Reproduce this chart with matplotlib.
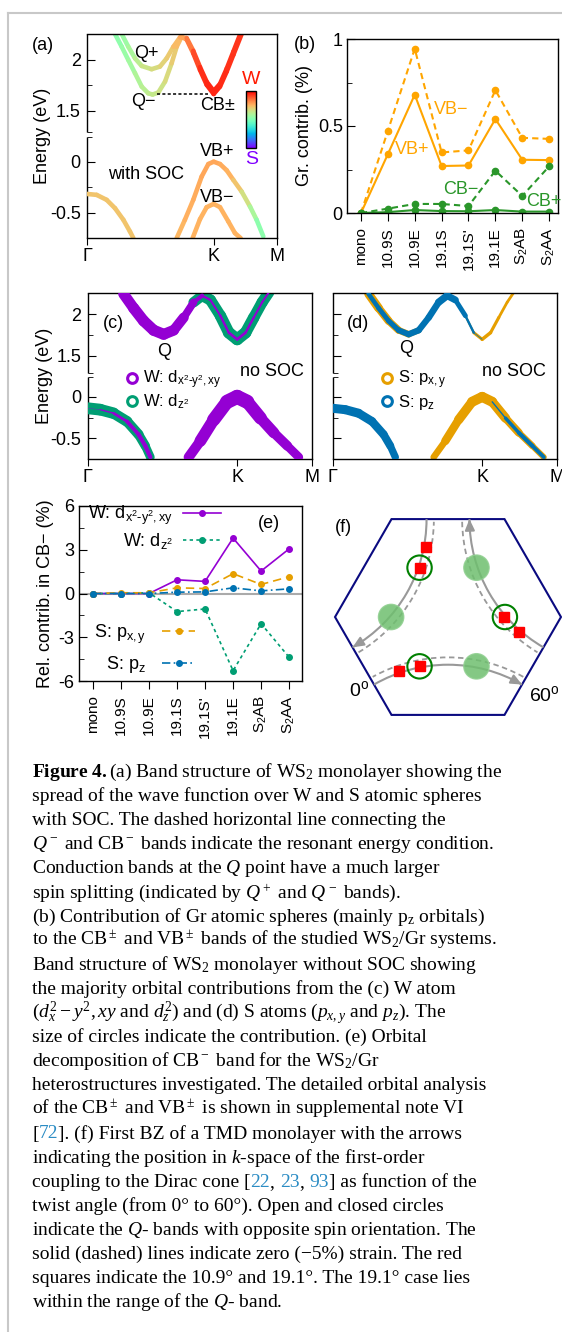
import numpy as np
import matplotlib
matplotlib.use("Agg")
import matplotlib.pyplot as plt
from matplotlib.collections import LineCollection
from matplotlib.lines import Line2D
from matplotlib.patches import Polygon, Arc, Circle
from matplotlib.font_manager import FontProperties
from matplotlib import cm

plt.rcParams.update({
    "font.family": "Liberation Sans",
    "font.size": 13,
    "mathtext.fontset": "custom",
    "mathtext.rm": "Liberation Serif",
    "mathtext.it": "Liberation Serif:italic",
    "mathtext.bf": "Liberation Serif:bold",
    "mathtext.default": "regular",
    "axes.linewidth": 1.0,
    "xtick.labelsize": 13,
    "ytick.labelsize": 13,
})

PURPLE = "#9400D3"
TEAL = "#009E73"
ORANGE = "#E69F00"
BLUE = "#0072B2"
B_ORANGE = "#FFA500"
B_GREEN = "#2A962A"

# ---------------- data ----------------
systems = ["mono", "10.9S", "10.9E", "19.1S", "19.1S'", "19.1E",
           r"S$_2$AB", r"S$_2$AA"]

# (b) graphene contribution (%)
vb_plus = [0.0, 0.338, 0.68, 0.27, 0.273, 0.54, 0.306, 0.304]
vb_minus = [0.0, 0.472, 0.944, 0.348, 0.36, 0.706, 0.432, 0.426]
cb_minus = [0.0, 0.025, 0.052, 0.052, 0.04, 0.243, 0.098, 0.268]
cb_plus = [0.0, 0.005, 0.017, 0.011, 0.01, 0.017, 0.008, 0.008]

# (e) relative contribution in CB- (%)
w_dxy = [0.0, 0.0, 0.0, 0.94, 0.83, 3.8, 1.54, 3.06]
w_dz2 = [0.0, 0.0, 0.05, -1.24, -1.06, -5.29, -2.07, -4.37]
s_pxy = [0.0, 0.05, 0.05, 0.39, 0.34, 1.36, 0.62, 1.15]
s_pz = [0.0, 0.0, 0.0, 0.09, 0.11, 0.39, 0.18, 0.32]

# k path: Gamma = 0, K = 1, M = 1.5
k_ticks = [0.0, 1.0, 1.5]
k_labels = ["Γ", "K", "M"]

# (a) bands with SOC (E in eV, weight 0 = S, 1 = W)
a_cbm_k = [0.221, 0.274, 0.326, 0.379, 0.432, 0.484, 0.518, 0.563, 0.616, 0.668, 0.708,
           0.747, 0.787, 0.839, 0.892, 0.945, 1.0, 1.05, 1.103, 1.155, 1.221]
a_cbm_e = [2.255, 2.13, 2.0, 1.87, 1.738, 1.672, 1.66, 1.68, 1.787, 1.967, 2.13,
           2.228, 2.2, 2.065, 1.902, 1.755, 1.665, 1.738, 1.886, 2.049, 2.255]
a_cbm_w = [0.52, 0.54, 0.56, 0.58, 0.6, 0.62, 0.63, 0.64, 0.66, 0.69, 0.72,
           0.75, 0.8, 0.88, 0.93, 0.95, 0.95, 0.95, 0.94, 0.93, 0.93]
a_cbp_k = [0.274, 0.326, 0.379, 0.432, 0.51, 0.576, 0.629, 0.682, 0.734,
           0.787, 0.839, 0.892, 0.945, 1.0, 1.05, 1.103, 1.155, 1.21]
a_cbp_e = [2.255, 2.13, 2.016, 1.941, 1.909, 1.935, 2.016, 2.13, 2.222,
           2.215, 2.09, 1.93, 1.785, 1.695, 1.765, 1.915, 2.08, 2.255]
a_cbp_w = [0.54, 0.57, 0.6, 0.63, 0.66, 0.68, 0.7, 0.72, 0.75,
           0.8, 0.88, 0.93, 0.95, 0.95, 0.95, 0.94, 0.93, 0.93]
a_vg_k = [0.0, 0.076, 0.155, 0.221, 0.287, 0.339, 0.366]
a_vg_e = [-0.317, -0.326, -0.375, -0.457, -0.571, -0.686, -0.751]
a_vg_w = [0.72, 0.72, 0.72, 0.72, 0.72, 0.72, 0.72]
a_vbp_k = [0.708, 0.773, 0.839, 0.905, 0.958, 1.0, 1.05, 1.103, 1.155, 1.221, 1.287, 1.339, 1.392]
a_vbp_e = [-0.751, -0.571, -0.375, -0.147, -0.023, 0.0, -0.023, -0.085, -0.179, -0.294,
           -0.441, -0.571, -0.735]
a_vbp_w = [0.74, 0.75, 0.76, 0.77, 0.77, 0.77, 0.77, 0.76, 0.74, 0.7, 0.62, 0.55, 0.5]
a_vbm_k = [0.834, 0.892, 0.945, 1.0, 1.05, 1.116, 1.168, 1.213]
a_vbm_e = [-0.751, -0.565, -0.447, -0.415, -0.447, -0.588, -0.702, -0.751]
a_vbm_w = [0.75, 0.75, 0.75, 0.75, 0.75, 0.75, 0.75, 0.75]
resonant_k = [0.55, 0.957]
resonant_e = 1.665

# (c)/(d) bands without SOC
cb_k = [0.241, 0.308, 0.375, 0.442, 0.509, 0.576, 0.643, 0.709, 0.766, 0.821, 0.888,
        0.944, 1.0, 1.056, 1.111, 1.167, 1.212]
cb_e = [2.244, 2.073, 1.918, 1.805, 1.756, 1.805, 1.959, 2.143, 2.223, 2.171, 1.98,
        1.776, 1.695, 1.776, 1.959, 2.143, 2.264]
vg_k = [0.0, 0.085, 0.174, 0.264, 0.341, 0.386, 0.42]
vg_e = [-0.137, -0.154, -0.197, -0.296, -0.453, -0.591, -0.728]
vk_k = [0.676, 0.754, 0.843, 0.933, 1.0, 1.067, 1.156, 1.245, 1.335, 1.412]
vk_e = [-0.728, -0.532, -0.275, -0.059, 0.0, -0.059, -0.256, -0.433, -0.591, -0.728]

# orbital weights (circle size, pt)
c_dxy_cb = [7.5, 8, 8, 8, 8, 7.5, 7, 4, 2, 1.5, 1.5, 2, 2, 2, 1.5, 1.5, 1.5]
c_dxy_vg = [0, 0.5, 1.5, 2.5, 3, 3, 3]
c_dxy_vk = [6.5, 8, 9, 10, 10.5, 10, 8.5, 7.5, 6.5, 6]
c_dz2_cb = [0, 0, 0, 0, 0, 0, 2, 7, 8, 8, 8, 8.5, 8.5, 8.5, 8, 8, 8]
c_dz2_vg = [8.5, 8.5, 8, 7.5, 7, 6.5, 6]
d_pxy_cb = [6.5, 6, 5.5, 5, 4.5, 4, 2, 1, 0.5, 0.5, 1, 2, 2.5, 2.5, 2, 2, 2]
d_pxy_vk = [4, 5.5, 6.5, 7, 7.5, 7, 6.5, 5, 4.5, 4]
d_pz_cb = [3, 3.5, 3.5, 4, 4.5, 4.5, 4.5, 5, 5.5, 4.5, 2.5, 1, 0, 0, 0, 0, 0]
d_pz_vg = [6.5, 6.5, 6.5, 6, 6, 5.5, 5]
d_pz_vk = [0, 0, 0, 0, 0, 0, 2, 3, 3, 2.5]

# (f) BZ schematic (hexagon radius = 1)
hex_angles = [0, 60, 120, 180, 240, 300]
gamma_dist = np.sqrt(3)          # neighbouring Gamma point
arc_r_solid = 1.31
arc_r_dashed = 1.375
arc_rotations = [0, 120, 240]
square_twists = [10.9, 19.1]
square_r = 1.325
q_open_twist = 19.0
q_filled_twist = 41.0
q_r = 1.32

# ---------------- layout helpers ----------------
W_PX, H_PX = 562, 1332
SHIFT = 1.0                     # upper part of the broken energy axis
E_LO, E_HI = -0.75, 2.255
BREAK_LO, BREAK_HI = 0.24, 0.29

fig = plt.figure(figsize=(W_PX / 100, H_PX / 100), dpi=100)


def box(l, t, r, b):
    return [l / W_PX, 1 - b / H_PX, (r - l) / W_PX, (b - t) / H_PX]


def label(x, y, s, **kw):
    kw.setdefault("ha", "center")
    kw.setdefault("va", "center")
    return fig.text(x / W_PX, 1 - y / H_PX, s, **kw)


def broken_energy_axes(ax, show_labels=True):
    ax.set_xlim(0, 1.5)
    ax.set_ylim(E_LO, E_HI - SHIFT)
    ax.set_xticks(k_ticks, k_labels)
    ax.set_yticks([-0.5, 0.0, 0.5, 1.0], ["-0.5", "0", "1.5", "2"])
    ax.set_yticks([-0.25, BREAK_LO, BREAK_HI, 0.75], minor=True)
    ax.tick_params(axis="y", which="both", direction="in", right=False, labelleft=show_labels)
    ax.tick_params(axis="y", which="major", length=6, pad=4.5)
    ax.tick_params(axis="y", which="minor", length=3.5)
    ax.tick_params(axis="x", direction="out", length=5, pad=2)
    ax.spines["left"].set_visible(False)
    tr = ax.get_yaxis_transform()
    for lo, hi in [(E_LO, BREAK_LO), (BREAK_HI, E_HI - SHIFT)]:
        ax.plot([0, 0], [lo, hi], transform=tr, color="k", lw=1.0,
                clip_on=False, solid_capstyle="butt")


def segments(k, e):
    pts = np.column_stack([k, e])
    return np.stack([pts[:-1], pts[1:]], axis=1)


def soc_band(ax, k, e, w):
    lc = LineCollection(segments(k, e), cmap="rainbow", norm=plt.Normalize(0, 1),
                        linewidths=3.3, capstyle="round", joinstyle="round")
    w = np.asarray(w)
    lc.set_array(0.5 * (w[:-1] + w[1:]))
    ax.add_collection(lc)


def orbital_band(ax, k, e, size, color, z):
    size = np.asarray(size, dtype=float)
    lc = LineCollection(segments(k, e), colors=color, linewidths=0.5 * (size[:-1] + size[1:]),
                        capstyle="round", joinstyle="round", zorder=z)
    ax.add_collection(lc)


# page frame lines
fig.add_artist(Line2D([8 / W_PX, 8 / W_PX], [0, 1 - 13 / H_PX], transform=fig.transFigure,
                      color="#c8c8c8", lw=1.5))
fig.add_artist(Line2D([8 / W_PX, 1], [1 - 13 / H_PX, 1 - 13 / H_PX], transform=fig.transFigure,
                      color="#c8c8c8", lw=1.5))

# ---------------- (a) ----------------
ax_a = fig.add_axes(box(87, 34, 277, 238))
broken_energy_axes(ax_a)
up = lambda e: np.asarray(e) - SHIFT
soc_band(ax_a, a_cbm_k, up(a_cbm_e), a_cbm_w)
soc_band(ax_a, a_cbp_k, up(a_cbp_e), a_cbp_w)
soc_band(ax_a, a_vg_k, a_vg_e, a_vg_w)
soc_band(ax_a, a_vbp_k, a_vbp_e, a_vbp_w)
soc_band(ax_a, a_vbm_k, a_vbm_e, a_vbm_w)
ax_a.plot(resonant_k, up([resonant_e, resonant_e]), color="k", lw=1.1, ls=(0, (2, 1.5)))
ax_a.set_ylabel("Energy (eV)")
ax_a.yaxis.set_label_coords(-0.19, 0.5)

cax = fig.add_axes(box(246, 91, 256, 148))
cb = fig.colorbar(cm.ScalarMappable(norm=plt.Normalize(0, 1), cmap="rainbow"), cax=cax)
cb.set_ticks([])
cb.outline.set_linewidth(1.0)
label(251.5, 80, "W", color="#ff1a00", fontsize=14)
label(251.5, 160, "S", color="#8000ff", fontsize=14)

label(43, 45, "(a)")
label(146, 54, "Q+")
label(143, 102, "Q\u2212")
label(218, 105, "CB±")
label(217, 152, "VB+")
label(217, 197.5, "VB\u2212")
label(146, 174.5, "with SOC")

# ---------------- (b) ----------------
ax_b = fig.add_axes(box(347, 39, 558, 213))
xb = np.arange(len(systems))
ax_b.plot(xb, vb_minus, color=B_ORANGE, lw=1.5, ls=(0, (3, 2)), marker="o", ms=4.5)
ax_b.plot(xb, vb_plus, color=B_ORANGE, lw=1.5, marker="o", ms=4.5)
ax_b.plot(xb, cb_minus, color=B_GREEN, lw=1.5, ls=(0, (3, 2)), marker="o", ms=4.5)
ax_b.plot(xb, cb_plus, color=B_GREEN, lw=1.5, marker="o", ms=4.5)
ax_b.set_xlim(-0.52, 7.33)
ax_b.set_ylim(0, 1)
ax_b.set_yticks([0, 0.5, 1], ["0", "0.5", "1"])
ax_b.set_yticks([0.25, 0.75], minor=True)
ax_b.set_xticks(xb, systems, rotation=90, fontsize=11)
ax_b.tick_params(axis="y", which="both", direction="in", pad=3)
ax_b.tick_params(axis="y", which="major", length=6)
ax_b.tick_params(axis="y", which="minor", length=3.5)
ax_b.tick_params(axis="x", direction="out", length=6, pad=4)
ax_b.set_ylabel("Gr. contrib. (%)")
ax_b.yaxis.set_label_coords(-0.16, 0.5)
label(305, 44.5, "(b)")
label(451, 109, "VB\u2212", color=B_ORANGE)
label(412, 150, "VB+", color=B_ORANGE)
label(461, 190, "CB\u2212", color=B_GREEN)
label(544, 202, "CB+", color=B_GREEN)

# ---------------- (c) ----------------
ax_c = fig.add_axes(box(87.5, 293, 312, 459))
broken_energy_axes(ax_c)
orbital_band(ax_c, cb_k, up(cb_e), c_dz2_cb, TEAL, 2)
orbital_band(ax_c, vg_k, vg_e, c_dz2_vg, TEAL, 2)
orbital_band(ax_c, cb_k, up(cb_e), c_dxy_cb, PURPLE, 3)
orbital_band(ax_c, vg_k, vg_e, c_dxy_vg, PURPLE, 3)
orbital_band(ax_c, vk_k, vk_e, c_dxy_vk, PURPLE, 3)
ax_c.set_ylabel("Energy (eV)")
ax_c.yaxis.set_label_coords(-0.155, 0.5)
h_c = [Line2D([], [], ls="none", marker="o", ms=7, mfc="none", mec=PURPLE, mew=2.2),
       Line2D([], [], ls="none", marker="o", ms=7, mfc="none", mec=TEAL, mew=2.2)]
ax_c.legend(h_c, [r"W: $d_{x^2\text{-}y^2,xy}$", r"W: $d_{z^2}$"], loc="upper left",
            bbox_to_anchor=(0.17, 0.545), frameon=False, fontsize=12, handlelength=0.8,
            handletextpad=0.25, borderpad=0, borderaxespad=0, labelspacing=0.1)
label(113, 324, "(c)")
label(164, 351, "Q")
label(272, 371.5, "no SOC")

# ---------------- (d) ----------------
ax_d = fig.add_axes(box(332.5, 293, 557, 459))
broken_energy_axes(ax_d, show_labels=False)
orbital_band(ax_d, cb_k, up(cb_e), d_pxy_cb, ORANGE, 2)
orbital_band(ax_d, vk_k, vk_e, d_pxy_vk, ORANGE, 2)
orbital_band(ax_d, cb_k, up(cb_e), d_pz_cb, BLUE, 3)
orbital_band(ax_d, vg_k, vg_e, d_pz_vg, BLUE, 3)
orbital_band(ax_d, vk_k, vk_e, d_pz_vk, BLUE, 3)
h_d = [Line2D([], [], ls="none", marker="o", ms=7, mfc="none", mec=ORANGE, mew=2.2),
       Line2D([], [], ls="none", marker="o", ms=7, mfc="none", mec=BLUE, mew=2.2)]
ax_d.legend(h_d, [r"S: $p_{x,y}$", r"S: $p_z$"], loc="upper left",
            bbox_to_anchor=(0.215, 0.545), frameon=False, fontsize=12, handlelength=0.8,
            handletextpad=0.25, borderpad=0, borderaxespad=0, labelspacing=0.1)
label(358, 324, "(d)")
label(406.5, 349, "Q")
label(514, 371.5, "no SOC")

# ---------------- (e) ----------------
ax_e = fig.add_axes(box(79, 506, 302, 681))
xe = np.arange(len(systems))
ax_e.axhline(0, color="#aaaaaa", lw=1.5, zorder=1)
l1, = ax_e.plot(xe, w_dxy, color=PURPLE, lw=1.2, marker="o", ms=4)
l2, = ax_e.plot(xe, w_dz2, color=TEAL, lw=1.2, ls=(0, (2, 2)), marker="o", ms=4)
l3, = ax_e.plot(xe, s_pxy, color=ORANGE, lw=1.2, ls=(0, (5, 3)), marker="o", ms=4)
l4, = ax_e.plot(xe, s_pz, color=BLUE, lw=1.2, ls=(0, (5, 2, 1, 2)), marker="o", ms=4)
ax_e.set_xlim(-0.5, 7.46)
ax_e.set_ylim(-6, 6)
ax_e.set_yticks([-6, -3, 0, 3, 6], ["-6", "-3", "0", "3", "6"])
ax_e.set_yticks([-4.5, -1.5, 1.5, 4.5], minor=True)
ax_e.set_xticks(xe, systems, rotation=90, fontsize=11)
ax_e.tick_params(axis="y", which="both", direction="in", pad=3.5)
ax_e.tick_params(axis="y", which="major", length=6)
ax_e.tick_params(axis="y", which="minor", length=3.5)
ax_e.tick_params(axis="x", direction="out", length=6, pad=4)
ax_e.set_ylabel("Rel. contrib. in CB\u2212 (%)")
ax_e.yaxis.set_label_coords(-0.11, 0.5)
leg_w = ax_e.legend([l1, l2], [r"W: $d_{x^2\text{-}y^2,xy}$", r"W: $d_{z^2}$"],
                    loc="upper right", bbox_to_anchor=(0.635, 1.01), frameon=False,
                    markerfirst=False, fontsize=13, handlelength=2.1, handletextpad=0.55,
                    borderpad=0, borderaxespad=0, labelspacing=0.2, numpoints=1)
ax_e.add_artist(leg_w)
ax_e.legend([l3, l4], [r"S: $p_{x,y}$", r"S: $p_z$"], loc="lower right",
            bbox_to_anchor=(0.52, 0.035), frameon=False, markerfirst=False, fontsize=13,
            handlelength=1.8, handletextpad=0.9, borderpad=0, borderaxespad=0,
            labelspacing=0.45, numpoints=1)
label(269, 524, "(e)")

# ---------------- (f) ----------------
ax_f = fig.add_axes(box(320, 500, 562, 740))
ax_f.set_xlim(-1.133, 1.009)
ax_f.set_ylim(-1.088, 1.035)
ax_f.axis("off")
hex_xy = [(np.cos(np.radians(a)), np.sin(np.radians(a))) for a in hex_angles]
ax_f.add_patch(Polygon(hex_xy, closed=True, fill=False, ec="#0a0a80", lw=1.5, zorder=1))


def on_arc(rot, twist, r):
    c = np.radians(rot)
    cx, cy = gamma_dist * np.sin(c), -gamma_dist * np.cos(c)
    phi = np.radians(120 - twist + rot)
    return cx + r * np.cos(phi), cy + r * np.sin(phi), (cx, cy)


for rot in arc_rotations:
    _, _, centre = on_arc(rot, 0, 0)
    ax_f.add_patch(Arc(centre, 2 * arc_r_solid, 2 * arc_r_solid, theta1=60 + rot,
                       theta2=120 + rot, color="#999999", lw=1.5, zorder=2))
    ax_f.add_patch(Arc(centre, 2 * arc_r_dashed, 2 * arc_r_dashed, theta1=61 + rot,
                       theta2=119 + rot, color="#999999", lw=1.3, ls=(0, (3, 2)), zorder=2))
    tip = on_arc(rot, 60, arc_r_solid)[:2]
    tail = on_arc(rot, 56, arc_r_solid)[:2]
    ax_f.annotate("", xy=tip, xytext=tail,
                  arrowprops=dict(arrowstyle="-|>,head_length=0.5,head_width=0.22",
                                  color="#999999", lw=1.5, shrinkA=0, shrinkB=0))
    fx, fy, _ = on_arc(rot, q_filled_twist, q_r)
    ax_f.add_patch(Circle((fx, fy), 0.112, fc="#6fbf6f", ec="#8fcf8f", alpha=0.85, zorder=3))
    ox, oy, _ = on_arc(rot, q_open_twist, q_r)
    ax_f.add_patch(Circle((ox, oy), 0.108, fill=False, ec="#008000", lw=1.5, zorder=4))
    for t in square_twists:
        sx, sy, _ = on_arc(rot, t, square_r)
        ax_f.plot(sx, sy, "s", color="#ff0000", ms=6.5, zorder=5)

label(343, 528, "(f)")
label(359, 690, r"0$^o$", fontsize=14)
label(544, 695, r"60$^o$", fontsize=14)

# ---------------- caption ----------------
CAP_X, CAP_Y0, CAP_DY, CAP_FS = 32, 777, 24.1, 14
INK = "black"
LINK = "#2b8cc4"
caption = [
    r"$\mathbf{Figure\ 4.}$(a) Band structure of WS$_2$ monolayer showing the",
    "spread of the wave function over W and S atomic spheres",
    "with SOC. The dashed horizontal line connecting the",
    r"$\mathit{Q}^-$ and CB$^-$ bands indicate the resonant energy condition.",
    r"Conduction bands at the $\mathit{Q}$ point have a much larger",
    r"spin splitting (indicated by $\mathit{Q}^+$ and $\mathit{Q}^-$ bands).",
    r"(b) Contribution of Gr atomic spheres (mainly p$_z$ orbitals)",
    r"to the CB$^\pm$ and VB$^\pm$ bands of the studied WS$_2$/Gr systems.",
    r"Band structure of WS$_2$ monolayer without SOC showing",
    "the majority orbital contributions from the (c) W atom",
    r"($\mathit{d}_\mathit{x}^2 - \mathit{y}^2, \mathit{xy}$ and $\mathit{d}_\mathit{z}^2$)"
    r" and (d) S atoms ($\mathit{p}_{\mathit{x},\mathit{y}}$ and $\mathit{p}_\mathit{z}$). The",
    "size of circles indicate the contribution. (e) Orbital",
    r"decomposition of CB$^-$ band for the WS$_2$/Gr",
    "heterostructures investigated. The detailed orbital analysis",
    r"of the CB$^\pm$ and VB$^\pm$ is shown in supplemental note VI",
    [("[", INK), ("72", LINK), ("]. (f) First BZ of a TMD monolayer with the arrows", INK)],
    r"indicating the position in $\mathit{k}$-space of the first-order",
    [("coupling to the Dirac cone [", INK), ("22", LINK), (", ", INK), ("23", LINK),
     (", ", INK), ("93", LINK), ("] as function of the", INK)],
    "twist angle (from 0° to 60°). Open and closed circles",
    r"indicate the $\mathit{Q}$- bands with opposite spin orientation. The",
    "solid (dashed) lines indicate zero (\u22125%) strain. The red",
    "squares indicate the 10.9° and 19.1°. The 19.1° case lies",
    r"within the range of the $\mathit{Q}$- band.",
]

renderer = fig.canvas.get_renderer()
cap_fp = FontProperties(family="Liberation Serif", size=CAP_FS)


def text_width(s):
    return renderer.get_text_width_height_descent(s, cap_fp, ismath=False)[0]


for i, line in enumerate(caption):
    y = CAP_Y0 + CAP_DY * i
    if isinstance(line, str):
        label(CAP_X, y, line, ha="left", va="baseline", family="Liberation Serif",
              fontsize=CAP_FS)
        continue
    prefix = ""
    for part, col in line:
        dx = text_width(prefix + part[0]) - text_width(part[0]) if prefix else 0.0
        label(CAP_X + dx, y, part, ha="left", va="baseline", family="Liberation Serif",
              fontsize=CAP_FS, color=col)
        prefix += part

fig.savefig("out.png", dpi=100)
